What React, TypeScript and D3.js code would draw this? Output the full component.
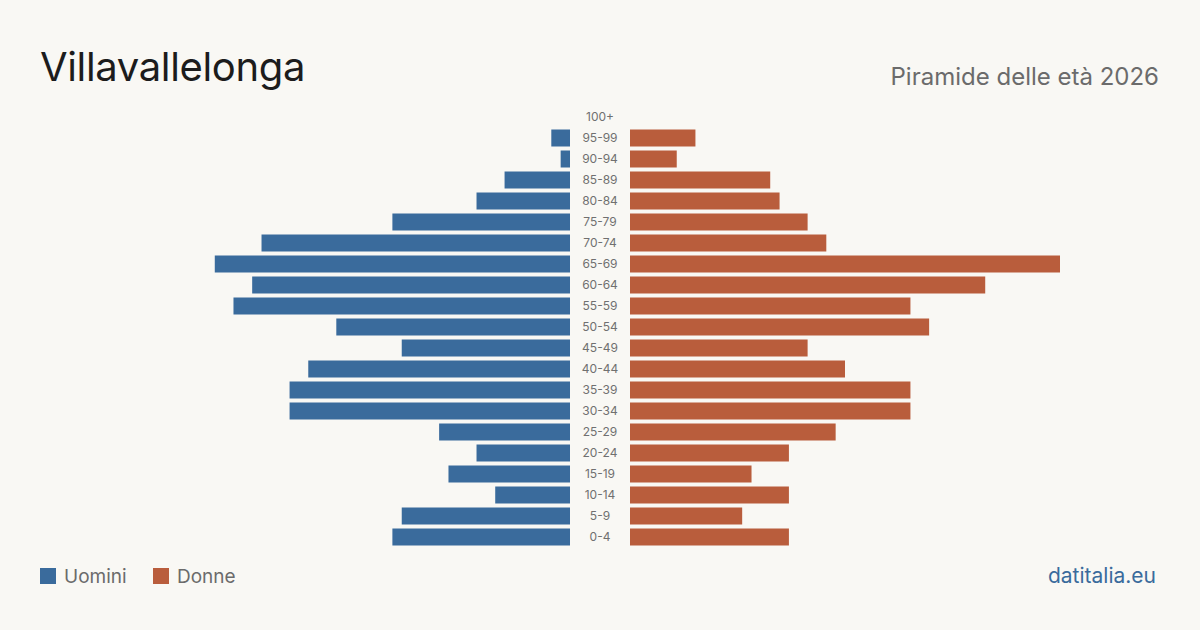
import * as d3 from "d3";

const ageGroups = [
  "100+", "95-99", "90-94", "85-89", "80-84", "75-79", "70-74", "65-69",
  "60-64", "55-59", "50-54", "45-49", "40-44", "35-39", "30-34", "25-29",
  "20-24", "15-19", "10-14", "5-9", "0-4",
];
const men = [0, 2, 1, 7, 10, 19, 33, 38, 34, 36, 25, 18, 28, 30, 30, 14, 10, 13, 8, 18, 19];
const women = [0, 7, 5, 15, 16, 19, 21, 46, 38, 30, 32, 19, 23, 30, 30, 22, 17, 13, 17, 12, 17];

const W = 1200;
const H = 630;
const BLUE = "#3a6b9c";
const ORANGE = "#b95d3c";
const FONT = "Inter, 'Noto Sans', sans-serif";

export default function App() {
  const maxV = d3.max([...men, ...women]) as number;
  const xL = d3.scaleLinear().domain([0, maxV]).range([570, 140]);
  const xR = d3.scaleLinear().domain([0, maxV]).range([630, 1060]);
  const y = d3
    .scaleBand()
    .domain(ageGroups)
    .range([106.5, 547.5])
    .paddingInner(4 / 21)
    .paddingOuter(2 / 21);
  const bh = y.bandwidth();

  return (
    <svg
      width={W}
      height={H}
      style={{ position: "absolute", left: 0, top: 0, display: "block" }}
    >
      <rect width={W} height={H} fill="#f9f8f4" />
      <text x={40} y={81} fontFamily={FONT} fontSize={40} fill="#1c1c1c" letterSpacing={-0.35}>
        Villavallelonga
      </text>
      <text x={1159} y={85} textAnchor="end" fontFamily={FONT} fontSize={24} fill="#6b6b6b">
        Piramide delle età 2026
      </text>

      {ageGroups.map((g, i) => {
        const yy = y(g) as number;
        return (
          <g key={g}>
            {men[i] > 0 && (
              <rect x={xL(men[i])} y={yy} width={570 - xL(men[i])} height={bh} fill={BLUE} />
            )}
            {women[i] > 0 && (
              <rect x={630} y={yy} width={xR(women[i]) - 630} height={bh} fill={ORANGE} />
            )}
            <text
              x={600}
              y={yy + bh / 2}
              dy="0.35em"
              textAnchor="middle"
              fontFamily={FONT}
              fontSize={12}
              fill="#707070"
            >
              {g}
            </text>
          </g>
        );
      })}

      <rect x={40} y={568} width={16} height={16} fill={BLUE} />
      <text x={64} y={583} fontFamily={FONT} fontSize={19} fill="#6b6b6b">
        Uomini
      </text>
      <rect x={153} y={568} width={16} height={16} fill={ORANGE} />
      <text x={177} y={583} fontFamily={FONT} fontSize={19} fill="#6b6b6b">
        Donne
      </text>
      <text x={1156} y={583} textAnchor="end" fontFamily={FONT} fontSize={21} fill={BLUE}>
        datitalia.eu
      </text>
    </svg>
  );
}
